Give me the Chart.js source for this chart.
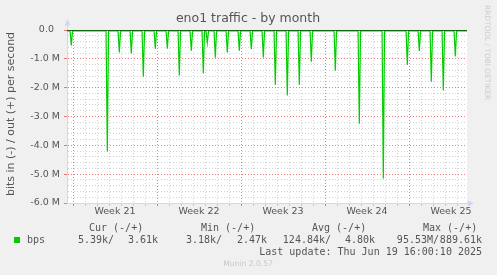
<!DOCTYPE html>
<html>
<head>
<meta charset="utf-8">
<script src="https://cdn.jsdelivr.net/npm/chart.js@4.4.1/dist/chart.umd.min.js"></script>
<style>
    html, body { margin: 0; padding: 0; background: #f0f0f0; }
    #wrap { width: 497px; height: 275px; }
</style>
</head>
<body>
<div id="wrap"><canvas id="trafficChart" width="497" height="275"></canvas></div>
<script>
// time axis in hours since the start of the graph (33 days shown)
const spanHours = 800;
const spikeHours = [8.6, 80.6, 104.6, 128.6, 152.6, 176.6, 200.6, 224.6, 248.6, 272.6, 280.6, 296.6, 320.6, 344.6,
    368.6, 392.6, 416.6, 440.6, 464.6, 488.6, 536.6, 584.6, 632.6, 680.6, 704.6, 728.6, 752.6, 776.6];
// inbound peaks, M bits/s (drawn negative)
const spikeIn = [-0.54, -4.21, -0.78, -0.81, -1.62, -0.65, -0.65, -1.58, -0.72, -1.51, -0.44, -0.96, -0.78, -0.72,
    -0.67, -0.95, -1.90, -2.27, -1.90, -1.10, -1.41, -3.25, -5.15, -1.21, -0.73, -1.79, -2.10, -0.92];
const baseIn = -0.03;
const outHours = [80.6, 584.6];
const outPeaks = [0.07, 0.08];
const zeroLine = [0, 0];

const weekLabels = ['Week 21', 'Week 22', 'Week 23', 'Week 24', 'Week 25'];
const weekCenters = [96, 264, 432, 600, 768];
const firstDayLine = 12;   // hour of the first day grid line
const weekStartLines = [12, 180, 348, 516, 684];

const legendHeaders = ['Cur (-/+)', 'Min (-/+)', 'Avg (-/+)', 'Max (-/+)'];
const legendIn = ['5.39k', '3.18k', '124.84k', '95.53M'];
const legendOut = ['3.61k', '2.47k', '4.80k', '889.61k'];
const lastUpdate = 'Last update: Thu Jun 19 16:00:10 2025';

const green = '#00cc00';
const axisColor = '#cfd6f8';
const minorGrid = 'rgba(143,143,143,0.4)';
const majorGrid = 'rgba(225,70,70,0.7)';

// build the line series from the peaks
const inData = [{ x: 0, y: baseIn }];
spikeHours.forEach((h, i) => {
    inData.push({ x: h - 2.5, y: baseIn }, { x: h, y: spikeIn[i] }, { x: h + 2.5, y: baseIn });
});
inData.push({ x: spanHours, y: baseIn });

const outData = [{ x: 0, y: 0 }];
outHours.forEach((h, i) => {
    outData.push({ x: h - 2, y: 0 }, { x: h, y: outPeaks[i] }, { x: h + 2, y: 0 });
});
outData.push({ x: spanHours, y: 0 });

const isWhole = v => Math.abs(v - Math.round(v)) < 1e-6;

const muninPlugin = {
    id: 'munin',
    beforeDraw(chart) {
        const { ctx, chartArea: a } = chart;
        ctx.save();
        ctx.fillStyle = '#ffffff';
        ctx.fillRect(a.left, a.top, a.right - a.left, a.bottom - a.top);
        ctx.restore();
    },
    afterDraw(chart) {
        const { ctx, chartArea: a, scales } = chart;
        ctx.save();

        // axis arrows
        ctx.strokeStyle = axisColor;
        ctx.fillStyle = axisColor;
        ctx.lineWidth = 1;
        ctx.beginPath();
        ctx.moveTo(a.left + 0.5, a.top);
        ctx.lineTo(a.left + 0.5, 24);
        ctx.moveTo(a.right, a.bottom + 0.5);
        ctx.lineTo(a.right + 3, a.bottom + 0.5);
        ctx.stroke();
        ctx.beginPath();
        ctx.moveTo(a.left + 0.5, 19);
        ctx.lineTo(a.left - 2.5, 25.5);
        ctx.lineTo(a.left + 3.5, 25.5);
        ctx.closePath();
        ctx.fill();
        ctx.beginPath();
        ctx.moveTo(a.right + 7, a.bottom + 0.5);
        ctx.lineTo(a.right + 1, a.bottom - 2.5);
        ctx.lineTo(a.right + 1, a.bottom + 3.5);
        ctx.closePath();
        ctx.fill();

        // title
        ctx.fillStyle = '#555';
        ctx.textAlign = 'center';
        ctx.textBaseline = 'middle';
        ctx.font = '12.5px "DejaVu Sans"';
        ctx.fillText('eno1 traffic - by month', 248, 19);

        // week labels
        ctx.font = '9.5px "DejaVu Sans"';
        weekLabels.forEach((w, i) => {
            ctx.fillText(w, scales.x.getPixelForValue(weekCenters[i]), 212);
        });

        // y axis title
        ctx.save();
        ctx.translate(11, 114);
        ctx.rotate(-Math.PI / 2);
        ctx.font = '11px "DejaVu Sans"';
        ctx.fillText('bits in (-) / out (+) per second', 0, 0);
        ctx.restore();

        // rrdtool credit
        ctx.save();
        ctx.translate(486.5, 5);
        ctx.rotate(Math.PI / 2);
        ctx.textAlign = 'left';
        ctx.fillStyle = '#cccccc';
        ctx.font = '7.4px "DejaVu Sans"';
        ctx.fillText('RRDTOOL / TOBI OETIKER', 0, 0);
        ctx.restore();

        // legend
        ctx.font = '10px "DejaVu Sans Mono"';
        ctx.fillStyle = '#555';
        ctx.textAlign = 'left';
        const headLeft = [89, 201, 312, 423];
        const inRight = [114, 222, 331, 439];
        const outRight = [158, 267, 375, 482];
        legendHeaders.forEach((h, i) => ctx.fillText(h, headLeft[i], 228));
        ctx.fillText('bps', 27, 240);
        ctx.textAlign = 'right';
        legendIn.forEach((v, i) => ctx.fillText(v + '/', inRight[i], 240));
        legendOut.forEach((v, i) => ctx.fillText(v, outRight[i], 240));
        ctx.fillText(lastUpdate, 482, 252);
        ctx.fillStyle = green;
        ctx.fillRect(14, 237, 6, 6);

        ctx.textAlign = 'center';
        ctx.fillStyle = '#c8c8c8';
        ctx.font = '7.6px "DejaVu Sans"';
        ctx.fillText('Munin 2.0.57', 248, 264);
        ctx.restore();
    }
};

const ctx = document.getElementById('trafficChart').getContext('2d');
new Chart(ctx, {
    type: 'line',
    data: {
        datasets: [
            {
                data: [{ x: 0, y: zeroLine[0] }, { x: spanHours, y: zeroLine[1] }],
                borderColor: '#000000', borderWidth: 1, pointRadius: 0
            },
            {
                data: outData,
                borderColor: green, borderWidth: 1, pointRadius: 0
            },
            {
                data: inData,
                borderColor: green, borderWidth: 1.2, pointRadius: 0
            }
        ]
    },
    options: {
        responsive: false,
        animation: false,
        layout: { padding: { left: 0, right: 30, top: 30, bottom: 52 } },
        plugins: { legend: { display: false }, tooltip: { enabled: false } },
        scales: {
            x: {
                type: 'linear',
                min: 0,
                max: spanHours,
                afterBuildTicks: scale => {
                    const t = [];
                    for (let h = firstDayLine; h < spanHours; h += 24) t.push({ value: h });
                    scale.ticks = t;
                },
                afterFit: scale => { scale.height = 20; },
                ticks: { display: false, autoSkip: false },
                grid: {
                    color: c => weekStartLines.includes(c.tick && c.tick.value) ? majorGrid : minorGrid,
                    tickColor: c => weekStartLines.includes(c.tick && c.tick.value) ? majorGrid : minorGrid,
                    tickLength: 3,
                    lineWidth: 1
                },
                border: { color: axisColor, dash: [1, 2] }
            },
            y: {
                min: -6,
                max: 0,
                afterBuildTicks: scale => {
                    const t = [];
                    for (let k = 0; k <= 30; k++) t.push({ value: -k / 5 });
                    scale.ticks = t;
                },
                afterFit: scale => { scale.width = 67; },
                ticks: {
                    autoSkip: false,
                    padding: 4,
                    color: '#555',
                    font: { family: 'DejaVu Sans', size: 9.5 },
                    callback: v => {
                        if (!isWhole(v)) return '';
                        const r = Math.round(v);
                        return r === 0 ? '0.0  ' : r.toFixed(1) + ' M';
                    }
                },
                grid: {
                    color: c => isWhole(c.tick.value) ? majorGrid : minorGrid,
                    tickColor: c => isWhole(c.tick.value) ? majorGrid : 'rgba(0,0,0,0)',
                    tickLength: 3,
                    lineWidth: 1
                },
                border: { color: axisColor, dash: [1, 2] }
            }
        }
    },
    plugins: [muninPlugin]
});
</script>
</body>
</html>
